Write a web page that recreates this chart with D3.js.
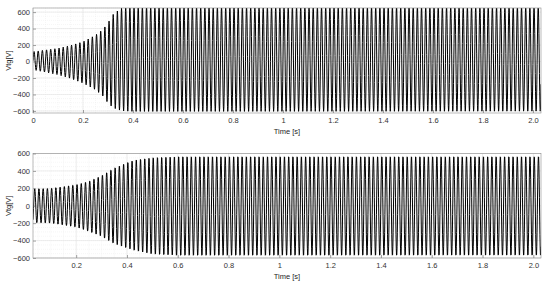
<!DOCTYPE html>
<html>
<head>
<meta charset="utf-8">
<script src="https://cdn.jsdelivr.net/npm/d3@7"></script>
<style>
  body { margin: 0; background: #fff; }
  text { font-family: "Liberation Sans", Arial, sans-serif; }
</style>
</head>
<body>
<script>
// envelope: time [s], upper peak, lower peak [V]
var topTime  = [0, 0.05, 0.1, 0.15, 0.2, 0.25, 0.28, 0.3, 0.32, 0.34, 0.36, 0.4, 2.05];
var topUpper = [120, 140, 160, 195, 240, 320, 390, 470, 570, 620, 660, 670, 670];
var topLower = [-100, -130, -160, -205, -262, -343, -420, -504, -560, -585, -600, -606, -606];

var botTime  = [0, 0.1, 0.2, 0.25, 0.3, 0.35, 0.4, 0.43, 0.5, 0.6, 2.05];
var botUpper = [194, 201, 244, 283, 349, 438, 500, 531, 558, 570, 570];
var botLower = [-194, -201, -248, -298, -356, -442, -492, -520, -562, -577, -575];

var freq = 60; // carrier frequency [Hz]

var topXTicks = [0, 0.2, 0.4, 0.6, 0.8, 1, 1.2, 1.4, 1.6, 1.8, 2.0];
var botXTicks = [0.2, 0.4, 0.6, 0.8, 1, 1.2, 1.4, 1.6, 1.8, 2.0];
var topYTicks = [-600, -400, -200, 0, 200, 400, 600];
var botYTicks = [-600, -400, -200, 0, 200, 400, 600];

var width = 550, height = 285;

var svg = d3.select("body").append("svg")
    .attr("width", width)
    .attr("height", height);

function fmt(d) {
    if (d === 0 || d === 1) return String(d);
    return d.toFixed(1);
}

function drawPanel(opt) {
    var x = d3.scaleLinear().domain(opt.xDomain).range([33, 541]);
    var y = d3.scaleLinear().domain(opt.yDomain).range([opt.bottom, opt.top]);

    var g = svg.append("g");
    var clipId = "clip" + opt.id;
    g.append("clipPath").attr("id", clipId)
      .append("rect")
        .attr("x", 33).attr("y", opt.top)
        .attr("width", 508).attr("height", opt.bottom - opt.top);

    // minor grid
    var xMinor = d3.range(Math.ceil(opt.xDomain[0] / 0.05), Math.floor(opt.xDomain[1] / 0.05) + 1)
        .map(function(i) { return i * 0.05; });
    var yMinor = d3.range(-24, 27).map(function(i) { return i * 50; })
        .filter(function(v) { return v >= opt.yDomain[0] && v <= opt.yDomain[1]; });
    g.append("g").selectAll("line").data(xMinor).enter().append("line")
        .attr("x1", function(d) { return x(d); }).attr("x2", function(d) { return x(d); })
        .attr("y1", opt.top).attr("y2", opt.bottom)
        .attr("stroke", "#ececec").attr("stroke-width", 0.5).attr("stroke-dasharray", "1,1");
    g.append("g").selectAll("line").data(yMinor).enter().append("line")
        .attr("y1", function(d) { return y(d); }).attr("y2", function(d) { return y(d); })
        .attr("x1", 33).attr("x2", 541)
        .attr("stroke", "#ececec").attr("stroke-width", 0.5).attr("stroke-dasharray", "1,1");

    // major grid
    g.append("g").selectAll("line").data(opt.xTicks).enter().append("line")
        .attr("x1", function(d) { return x(d); }).attr("x2", function(d) { return x(d); })
        .attr("y1", opt.top).attr("y2", opt.bottom)
        .attr("stroke", "#e3e3e3").attr("stroke-width", 0.6);
    g.append("g").selectAll("line").data(opt.yTicks).enter().append("line")
        .attr("y1", function(d) { return y(d); }).attr("y2", function(d) { return y(d); })
        .attr("x1", 33).attr("x2", 541)
        .attr("stroke", "#e3e3e3").attr("stroke-width", 0.6);

    // signal: carrier inside the read envelope
    var upper = d3.scaleLinear().domain(opt.time).range(opt.upper);
    var lower = d3.scaleLinear().domain(opt.time).range(opt.lower);
    var n = Math.round((opt.xDomain[1] - opt.xDomain[0]) * freq * 16);
    var pts = d3.range(n + 1).map(function(i) {
        var t = opt.xDomain[0] + i * (opt.xDomain[1] - opt.xDomain[0]) / n;
        var s = Math.sin(2 * Math.PI * freq * t + opt.phase);
        var u = upper(t), l = lower(t);
        var mid = (u + l) / 2, amp = (u - l) / 2;
        return [t, mid + amp * s];
    });
    var line = d3.line()
        .x(function(d) { return x(d[0]); })
        .y(function(d) { return y(d[1]); });
    g.append("path")
        .datum(pts)
        .attr("clip-path", "url(#" + clipId + ")")
        .attr("d", line)
        .attr("fill", "none")
        .attr("stroke", "#000")
        .attr("stroke-width", 1);

    // axes
    var xAxis = d3.axisBottom(x).tickValues(opt.xTicks).tickFormat(fmt).tickSize(3).tickPadding(3);
    var yAxis = d3.axisLeft(y).tickValues(opt.yTicks).tickFormat(d3.format("d")).tickSize(3).tickPadding(3);
    var xg = g.append("g").attr("transform", "translate(0," + opt.bottom + ")").call(xAxis);
    var yg = g.append("g").attr("transform", "translate(33,0)").call(yAxis);
    [xg, yg].forEach(function(a) {
        a.select(".domain").remove();
        a.selectAll(".tick line").attr("stroke", "#4d4d4d").attr("stroke-width", 0.5);
        a.selectAll(".tick text").attr("fill", "#333").style("font-size", "7.5px");
    });
    yg.selectAll(".tick line").attr("x2", 3);
    xg.selectAll(".tick line").attr("y2", -3);
    xg.selectAll(".tick text").attr("y", 5);
    yg.selectAll(".tick text").attr("x", -3);

    // box
    g.append("rect")
        .attr("x", 33).attr("y", opt.top)
        .attr("width", 508).attr("height", opt.bottom - opt.top)
        .attr("fill", "none").attr("stroke", "#8c8c8c").attr("stroke-width", 0.6);

    g.append("text")
        .attr("x", 287).attr("y", opt.bottom + 21)
        .attr("text-anchor", "middle")
        .attr("fill", "#262626")
        .style("font-size", "7.5px")
        .text("Time [s]");
    g.append("text")
        .attr("transform", "translate(11," + ((opt.top + opt.bottom) / 2) + ") rotate(-90)")
        .attr("text-anchor", "middle")
        .attr("fill", "#262626")
        .style("font-size", "7.5px")
        .text("Vtg[V]");
}

drawPanel({
    id: 1, top: 8, bottom: 113,
    xDomain: [0, 2.032], yDomain: [-625, 650],
    xTicks: topXTicks, yTicks: topYTicks,
    time: topTime, upper: topUpper, lower: topLower, phase: 0
});
drawPanel({
    id: 2, top: 153.5, bottom: 258,
    xDomain: [0.03, 2.03], yDomain: [-600, 600],
    xTicks: botXTicks, yTicks: botYTicks,
    time: botTime, upper: botUpper, lower: botLower, phase: 0.3
});
</script>
</body>
</html>
